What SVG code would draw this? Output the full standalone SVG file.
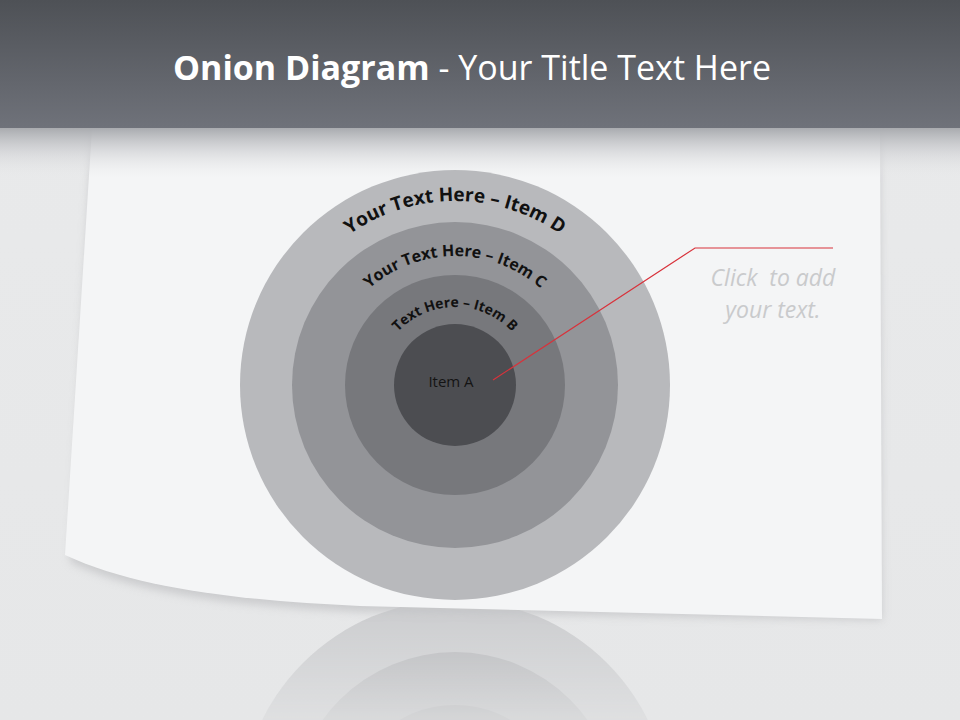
<svg xmlns="http://www.w3.org/2000/svg" xmlns:xlink="http://www.w3.org/1999/xlink" width="960" height="720" viewBox="0 0 960 720">
<defs>
<style>
.title{font-family:"Open Sans","Liberation Sans",sans-serif;fill:#ffffff;font-size:34px}
.arc{font-family:"Open Sans","Liberation Sans",sans-serif;font-weight:bold;fill:#111111}
.hint{font-family:"Open Sans","Liberation Sans",sans-serif;font-style:italic;fill:#c9cacc;font-size:23px;white-space:pre}
.lead{fill:none;stroke:#d8323b;stroke-width:1.2}
</style>
<linearGradient id="hdr" x1="0" y1="0" x2="0" y2="1">
<stop offset="0" stop-color="#4e5156"/>
<stop offset="1" stop-color="#6f727a"/>
</linearGradient>
<linearGradient id="bg" x1="0" y1="0" x2="0" y2="1">
<stop offset="0" stop-color="#e9eaeb"/>
<stop offset="1" stop-color="#e6e7e8"/>
</linearGradient>
<linearGradient id="hshadow" x1="0" y1="0" x2="0" y2="1">
<stop offset="0" stop-color="#a9abaf" stop-opacity="1"/>
<stop offset="0.5" stop-color="#cfd0d3" stop-opacity="0.6"/>
<stop offset="1" stop-color="#e8e9ea" stop-opacity="0"/>
</linearGradient>
<linearGradient id="fade" x1="0" y1="0" x2="0" y2="1">
<stop offset="0" stop-color="#fff" stop-opacity="0.6"/>
<stop offset="1" stop-color="#fff" stop-opacity="0.15"/>
</linearGradient>
<mask id="refmask" maskUnits="userSpaceOnUse" x="0" y="600" width="960" height="120">
<rect x="0" y="600" width="960" height="120" fill="url(#fade)"/>
</mask>
<filter id="blur" x="-10%" y="-10%" width="120%" height="130%">
<feGaussianBlur stdDeviation="4"/>
</filter>
<path id="arcD" d="M 271,385 A 184,184 0 0 1 639,385"/>
<path id="arcC" d="M 326,385 A 129,129 0 0 1 584,385"/>
<path id="arcB" d="M 377,385 A 78,78 0 0 1 533,385"/>
</defs>

<rect x="0" y="0" width="960" height="720" fill="url(#bg)"/>

<g id="reflection" mask="url(#refmask)">
<circle cx="455" cy="815" r="215" fill="#b8b9bc"/>
<circle cx="455" cy="815" r="163" fill="#939498"/>
<circle cx="455" cy="815" r="110" fill="#77787c"/>
</g>

<g id="paper">
<path d="M92,128 L880,128 L882,620 L360,612 C250,607 140,596 70,562 Z" fill="#c4c5c7" filter="url(#blur)" opacity="0.8"/>
<path d="M92,128 L880,128 L882,619 L360,606 C250,601 140,590 65,555 Z" fill="#f4f5f6"/>
<rect x="0" y="128" width="960" height="50" fill="url(#hshadow)"/>
</g>

<g id="header">
<rect x="0" y="0" width="960" height="128" fill="url(#hdr)"/>
<text class="title" x="472" y="80" text-anchor="middle"><tspan font-weight="bold">Onion Diagram</tspan> - Your Title Text Here</text>
</g>

<g id="item-d">
<circle cx="455" cy="385" r="215" fill="#b8b9bc"/>
<text class="arc" font-size="19"><textPath xlink:href="#arcD" href="#arcD" startOffset="50%" text-anchor="middle">Your Text Here – Item D</textPath></text>
</g>
<g id="item-c">
<circle cx="455" cy="385" r="163" fill="#939498"/>
<text class="arc" font-size="16"><textPath xlink:href="#arcC" href="#arcC" startOffset="50%" text-anchor="middle">Your Text Here – Item C</textPath></text>
</g>
<g id="item-b">
<circle cx="455" cy="385" r="110" fill="#77787c"/>
<text class="arc" font-size="14"><textPath xlink:href="#arcB" href="#arcB" startOffset="50%" text-anchor="middle">Text Here – Item B</textPath></text>
</g>
<g id="item-a">
<circle cx="455" cy="385" r="61" fill="#4c4d51"/>
<text x="451" y="387" text-anchor="middle" font-family="'Open Sans','Liberation Sans',sans-serif" font-size="15" fill="#141414">Item A</text>
</g>

<g id="connectors">
<polyline class="lead" points="493,380 695,248 833,248"/>
</g>

<g id="callout">
<text class="hint" x="773" y="286" text-anchor="middle">Click  to add</text>
<text class="hint" x="773" y="318" text-anchor="middle">your text.</text>
</g>
</svg>
